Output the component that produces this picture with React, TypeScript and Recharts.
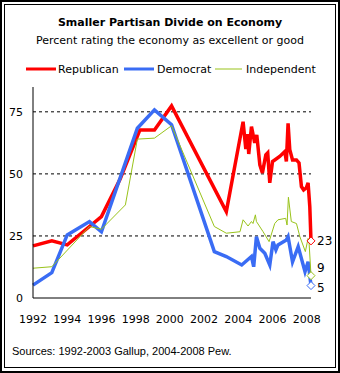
import React from 'react';
import { LineChart, Line, XAxis, YAxis, ReferenceLine } from 'recharts';

// [year, percent rating economy excellent/good]
const republican: [number, number][] = [
  [1992, 21], [1993.1, 23], [1994, 21.4], [1995.3, 28.8], [1996, 32.8], [1997.1, 48],
  [1998.25, 67.7], [1999.1, 67.7], [2000.1, 77.4], [2003.3, 34.8], [2004.28, 71],
  [2004.44, 60], [2004.55, 66], [2004.61, 58], [2004.77, 69], [2004.96, 62.5],
  [2005.08, 65.7], [2005.26, 53.6], [2005.41, 50.4], [2005.61, 57.7], [2005.72, 58.5],
  [2005.84, 46.4], [2006.0, 55], [2006.13, 55.6], [2006.42, 57], [2006.72, 59],
  [2006.81, 55], [2006.91, 70.4], [2007.01, 59.7], [2007.17, 55.6], [2007.4, 55.6],
  [2007.55, 54.4], [2007.69, 44.9], [2007.82, 43.5], [2007.98, 44.4], [2008.08, 46.4],
  [2008.18, 36.8], [2008.25, 23],
];

const democrat: [number, number][] = [
  [1992, 5.2], [1993.1, 10.2], [1994, 25.4], [1995.3, 30.8], [1996, 26.7], [1998.1, 68.4],
  [1999.1, 75.8], [2000.1, 69.8], [2002.6, 18.7], [2003.3, 16.7], [2004.2, 13.3],
  [2004.77, 16.7], [2004.9, 12.6], [2005.06, 24.7], [2005.26, 20], [2005.55, 18],
  [2005.84, 13.3], [2006.03, 22.7], [2006.2, 19.4], [2006.32, 21.4], [2006.81, 23.4],
  [2006.91, 24.7], [2007.17, 14.6], [2007.5, 20.7], [2007.9, 10.6], [2008.08, 14.6],
  [2008.14, 11.3], [2008.25, 5],
];

const independent: [number, number][] = [
  [1992, 12], [1993.1, 12.6], [1995.3, 28.8], [1996, 27.7], [1997.4, 37.5], [1998.1, 64],
  [1999.1, 64.4], [2000.1, 69.4], [2002.6, 28.8], [2003.3, 26.1], [2004.1, 26.7],
  [2004.28, 31.5], [2004.57, 29], [2004.77, 30.8], [2004.86, 30], [2005.0, 33.5],
  [2005.06, 30.8], [2005.45, 26.7], [2005.8, 22.7], [2006.13, 30], [2006.32, 31.5],
  [2006.77, 32.1], [2006.85, 29.4], [2006.93, 40.6], [2007.1, 30.8], [2007.4, 30],
  [2007.6, 24.7], [2007.92, 18.7], [2008.08, 24], [2008.14, 22], [2008.25, 9],
];

const yearTicks = [1992, 1994, 1996, 1998, 2000, 2002, 2004, 2006, 2008];
const valueTicks = [0, 25, 50, 75];
const gridValues = [25, 50, 75];

const FONT = "'DejaVu Sans', sans-serif";

const series = [
  { name: 'Republican', data: republican, color: '#ff0000', width: 3.5, labelDy: 0 },
  { name: 'Democrat', data: democrat, color: '#3a6cf4', width: 3.5, labelDy: 2 },
  { name: 'Independent', data: independent, color: '#99c31a', width: 1, labelDy: -8 },
];

const toRows = (pts: [number, number][]) => pts.map(([year, value]) => ({ year, value }));

function endDot(color: string, last: number, labelDy: number) {
  return (props: any) => {
    const { cx, cy, index, payload } = props;
    if (index !== last) return <g key={`d-${index}`} />;
    const s = 4;
    return (
      <g key={`d-${index}`}>
        <path
          d={`M${cx},${cy - s} L${cx + s},${cy} L${cx},${cy + s} L${cx - s},${cy} Z`}
          fill="#fff"
          stroke={color}
          strokeWidth={1}
        />
        <text x={cx + 6} y={cy + labelDy} dy="0.35em" fontSize={12} fontFamily={FONT} fill="#000">
          {Math.round(payload.value)}
        </text>
      </g>
    );
  };
}

export default function App() {
  return (
    <div style={{ position: 'absolute', left: 0, top: 0, width: 340, height: 373, background: '#fff', fontFamily: FONT }}>
      <div style={{ position: 'absolute', left: 0, top: 0, width: 336, height: 369, border: '2px solid #000' }} />
      <div style={{ position: 'absolute', left: 4, top: 4, width: 330, height: 362, border: '1px solid #000' }} />
      <div style={{ position: 'absolute', left: 0, width: 340, top: 16, textAlign: 'center', fontWeight: 'bold', fontSize: 11 }}>
        Smaller Partisan Divide on Economy
      </div>
      <div style={{ position: 'absolute', left: 0, width: 340, top: 34, textAlign: 'center', fontSize: 11 }}>
        Percent rating the economy as excellent or good
      </div>
      <svg style={{ position: 'absolute', left: 0, top: 58 }} width={340} height={22}>
        <line x1={26} x2={56} y1={11} y2={11} stroke="#ff0000" strokeWidth={3} />
        <text x={58} y={11} dy="0.35em" fontSize={11} fontFamily={FONT}>Republican</text>
        <line x1={124} x2={154} y1={11} y2={11} stroke="#3a6cf4" strokeWidth={3} />
        <text x={157} y={11} dy="0.35em" fontSize={11} fontFamily={FONT}>Democrat</text>
        <line x1={215} x2={242} y1={11} y2={11} stroke="#99c31a" strokeWidth={1} />
        <text x={246} y={11} dy="0.35em" fontSize={11} fontFamily={FONT}>Independent</text>
      </svg>
      <div style={{ position: 'absolute', left: 0, top: 0 }}>
        <LineChart width={340} height={373} margin={{ top: 87, right: 29, bottom: 45, left: 8 }}>
          {gridValues.map((v) => (
            <ReferenceLine key={v} y={v} stroke="#000" strokeDasharray="3 3" />
          ))}
          <XAxis
            type="number"
            dataKey="year"
            domain={[1992, 2008.25]}
            ticks={yearTicks}
            height={30}
            tickLine={false}
            tickSize={0}
            tickMargin={17}
            axisLine={{ stroke: '#000' }}
            tick={{ fill: '#000', fontSize: 11, fontFamily: FONT }}
          />
          <YAxis
            type="number"
            dataKey="value"
            domain={[0, 85]}
            ticks={valueTicks}
            width={25}
            tickLine={false}
            tickSize={0}
            tickMargin={10}
            axisLine={{ stroke: '#000' }}
            tick={{ fill: '#000', fontSize: 11, fontFamily: FONT }}
          />
          {series.map((s) => (
            <Line
              key={s.name}
              data={toRows(s.data)}
              dataKey="value"
              name={s.name}
              type="linear"
              stroke={s.color}
              strokeWidth={s.width}
              dot={endDot(s.color, s.data.length - 1, s.labelDy)}
              activeDot={false}
              isAnimationActive={false}
            />
          ))}
        </LineChart>
      </div>
      <div style={{ position: 'absolute', left: 12, top: 345, fontSize: 11, fontFamily: "'Liberation Sans', sans-serif" }}>
        Sources: 1992-2003 Gallup, 2004-2008 Pew.
      </div>
    </div>
  );
}
